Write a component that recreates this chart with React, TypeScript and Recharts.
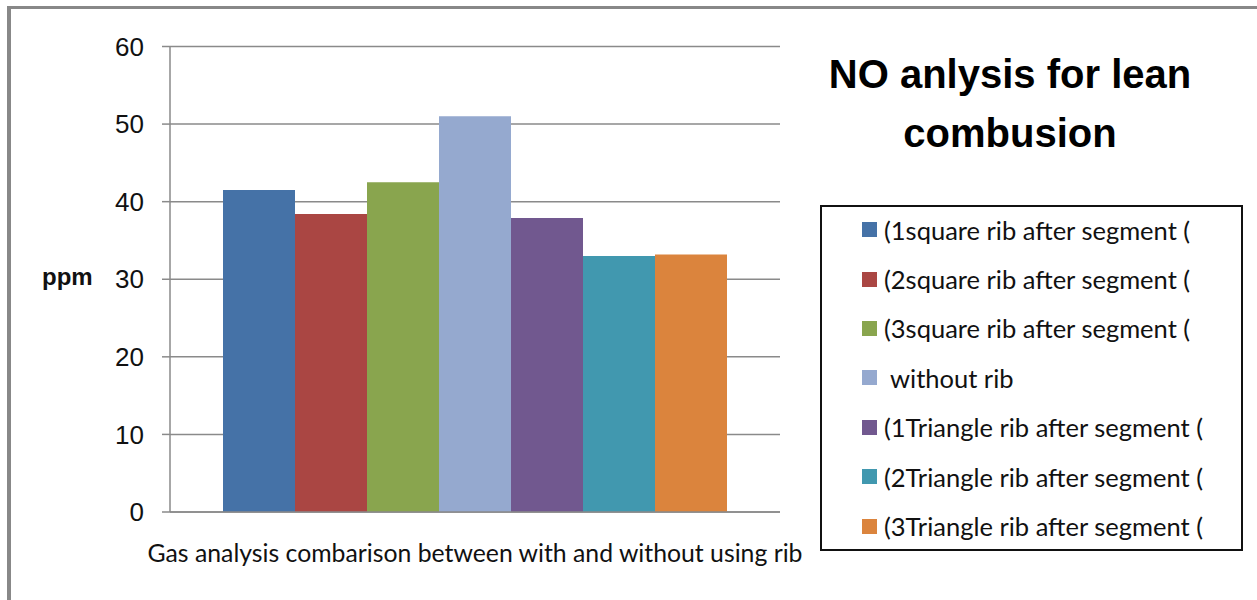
import { BarChart, Bar, XAxis, YAxis, CartesianGrid, Legend } from 'recharts';

const category = 'NO';
const axisTitle = 'Gas analysis combarison between with and without using rib';
const yTitle = 'ppm';
const titleLines = ['NO anlysis for lean', 'combusion'];

const seriesNames = [
    '(1square rib after segment (',
    '(2square rib after segment (',
    '(3square rib after segment (',
    ' without rib',
    '(1Triangle rib after segment (',
    '(2Triangle rib after segment (',
    '(3Triangle rib after segment (',
];
const seriesValues = [41.5, 38.4, 42.5, 51.0, 37.9, 33.0, 33.2];
const seriesColors = ['#4572A7', '#AA4643', '#89A54E', '#95A9CF', '#71588F', '#4198AF', '#DB843D'];
const yTicks = [0, 10, 20, 30, 40, 50, 60];

const data = [
    seriesNames.reduce<Record<string, string | number>>((row, _, i) => {
        row[`s${i}`] = seriesValues[i];
        return row;
    }, { name: category }),
];

const GRID = '#8a8a8a';
const SANS = '"Liberation Sans", Arial, sans-serif';
const SOFT = 'Lato, "Open Sans", sans-serif';

// legend keeps the series order (Recharts would sort it by name)
function renderLegend() {
    return (
        <div style={{ boxSizing: 'border-box', width: 423, height: 346, border: '2px solid #111', background: '#fff' }}>
            <div style={{ marginTop: -2 }}>
                {seriesNames.map((name, i) => (
                    <div key={`item-${i}`} style={{ height: 49.4, display: 'flex', alignItems: 'center', paddingLeft: 40 }}>
                        <span style={{ width: 15, height: 15, background: seriesColors[i], marginRight: 7, flex: 'none' }} />
                        <span style={{ fontFamily: SOFT, fontSize: 25.5, color: '#111', whiteSpace: 'pre' }}>{name}</span>
                    </div>
                ))}
            </div>
        </div>
    );
}

export default function App() {
    return (
        <div style={{ position: 'absolute', left: 0, top: 0, width: 1257, height: 600, background: '#fff', overflow: 'hidden' }}>
            {/* frame: only top and left edges show in the picture */}
            <div style={{ position: 'absolute', left: 7, top: 6, width: 1300, height: 700, borderTop: '3px solid #888', borderLeft: '4px solid #888' }} />
            <BarChart
                width={1257}
                height={600}
                data={data}
                margin={{ top: 46.5, right: 477, bottom: 28, left: 110 }}
                barCategoryGap={53}
                barGap={0}
            >
                <CartesianGrid horizontal vertical={false} stroke={GRID} strokeWidth={1.5} />
                <XAxis dataKey="name" xAxisId="cat" hide height={0} />
                <XAxis
                    xAxisId="edge"
                    type="number"
                    domain={[0, 1]}
                    ticks={[0, 1]}
                    tick={false}
                    tickSize={8}
                    height={60}
                    axisLine={{ stroke: GRID, strokeWidth: 1.5 }}
                    tickLine={{ stroke: GRID, strokeWidth: 1.5 }}
                    label={({ viewBox }: any) => (
                        <text
                            x={viewBox.x + viewBox.width / 2}
                            y={viewBox.y + 50}
                            textAnchor="middle"
                            fontFamily={SOFT}
                            fontSize={25}
                            fill="#111"
                            textLength={655}
                            lengthAdjust="spacingAndGlyphs"
                        >
                            {axisTitle}
                        </text>
                    )}
                />
                <YAxis
                    domain={[0, 60]}
                    ticks={yTicks}
                    width={60}
                    tickSize={8}
                    tickMargin={18}
                    axisLine={{ stroke: GRID, strokeWidth: 1.5 }}
                    tickLine={{ stroke: GRID, strokeWidth: 1.5 }}
                    tick={{ fontFamily: SANS, fontSize: 26, fill: '#111' }}
                    label={({ viewBox }: any) => (
                        <text x={42} y={viewBox.y + viewBox.height / 2} dy={6} fontFamily={SANS} fontWeight="bold" fontSize={24} fill="#111">
                            {yTitle}
                        </text>
                    )}
                />
                {seriesNames.map((name, i) => (
                    <Bar key={name} xAxisId="cat" dataKey={`s${i}`} name={name} fill={seriesColors[i]} isAnimationActive={false} />
                ))}
                <Legend
                    layout="vertical"
                    align="center"
                    verticalAlign="middle"
                    wrapperStyle={{ left: 820, top: 205, width: 423, height: 346 }}
                    content={renderLegend}
                />
            </BarChart>
            <svg width={1257} height={600} style={{ position: 'absolute', left: 0, top: 0, pointerEvents: 'none' }}>
                {titleLines.map((line, i) => (
                    <text key={line} x={1010} y={88 + i * 59} textAnchor="middle" fontFamily={SANS} fontWeight="bold" fontSize={40} fill="#000">
                        {line}
                    </text>
                ))}
            </svg>
        </div>
    );
}
